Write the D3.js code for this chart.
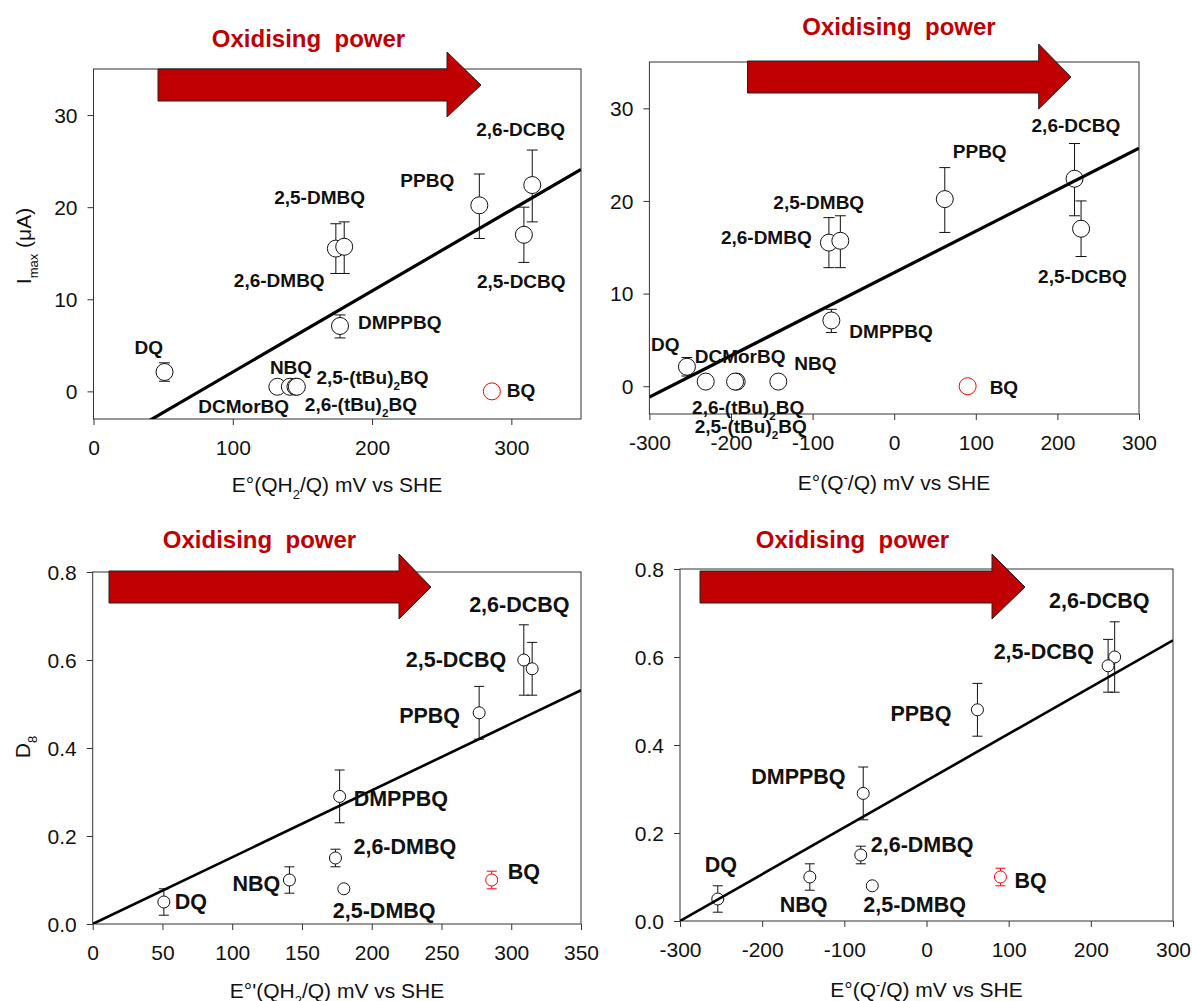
<!DOCTYPE html>
<html><head><meta charset="utf-8">
<script src="https://cdn.jsdelivr.net/npm/d3@7"></script>
<style>
html,body{margin:0;padding:0;background:#fff;}
svg{display:block;font-family:"Liberation Sans",Arial,Helvetica,sans-serif;}
</style></head><body>
<svg id="c" width="1192" height="1001"></svg>
<script>
// ---------------- data ----------------
const compounds = ["DQ","DCMorBQ","NBQ","2,5-(tBu)2BQ","2,6-(tBu)2BQ","2,6-DMBQ","2,5-DMBQ","DMPPBQ","PPBQ","2,5-DCBQ","2,6-DCBQ","BQ"];
const eQH2   = [51, 132, 141, 145, 146, 174, 180, 177, 277, 309, 315, 286];      // E°(QH2/Q) mV
const eQrad  = [-254, -231, -142, -193, -195, -80, -66, -77, 62, 229, 221, 90];  // E°(Q·-/Q) mV
const iMax   = [2.1, 0.5, 0.5, 0.5, 0.5, 15.5, 15.7, 7.1, 20.2, 17.0, 22.4, 0];
const iMaxLo = [1.1, 0.5, 0.5, 0.5, 0.5, 12.8, 12.8, 5.8, 16.6, 14.0, 18.4, 0];
const iMaxHi = [3.1, 0.5, 0.5, 0.5, 0.5, 18.2, 18.4, 8.3, 23.6, 20.0, 26.2, 0];
const dInf   = [0.05, null, 0.10, null, null, 0.15, 0.08, 0.29, 0.48, 0.60, 0.58, 0.10];
const dInfLo = [0.02, null, 0.07, null, null, 0.13, 0.08, 0.23, 0.42, 0.52, 0.52, 0.08];
const dInfHi = [0.08, null, 0.13, null, null, 0.17, 0.08, 0.35, 0.54, 0.68, 0.64, 0.12];
const outliers = ["BQ"];
const fitSlope     = [0.0880, 0.0448, 0.001518, 0.001063];
const fitIntercept = [-6.70, 12.26, 0, 0.319];
const xTicksQH2a = [0, 100, 200, 300];
const xTicksQH2b = [0, 50, 100, 150, 200, 250, 300, 350];
const xTicksQrad = [-300, -200, -100, 0, 100, 200, 300];
const yTicksImax = [0, 10, 20, 30];
const yTicksD    = [0, 0.2, 0.4, 0.6, 0.8];
const headline = "Oxidising  power";

// ---------------- layout ----------------
const intFmt = d => String(d);
const panels = [
  { x: eQH2, y: iMax, lo: iMaxLo, hi: iMaxHi, xDom: [0, 350], yDom: [-3, 35],
    xTicks: xTicksQH2a, yTicks: yTicksImax, yFmt: intFmt,
    box: [93.5, 69, 581, 419], r: 8.5, lab: 19, cap: 11, lw: 3.2, fit: 0,
    xTitle: [["E°(QH", ""], ["2", "sub"], ["/Q) mV vs SHE", ""]], xTitlePos: [337, 492],
    yTitle: [["I", ""], ["max", "sub"], [" (μA)", ""]], yTitlePos: [31, 246],
    arrow: { x0: 158, x1: 447, y0: 69, y1: 101, h0: 52, h1: 117, tip: 481 }, head: [308.5, 47],
    off: { "DQ": [-30, -18], "DCMorBQ": [-79, 26], "NBQ": [-20, -13], "2,5-(tBu)2BQ": [21, -3],
           "2,6-(tBu)2BQ": [8, 24], "2,6-DMBQ": [-102, 38], "2,5-DMBQ": [-70, -43], "DMPPBQ": [18, 3],
           "PPBQ": [-79, -18], "2,5-DCBQ": [-47, 53], "2,6-DCBQ": [-56, -49], "BQ": [15, 6] } },
  { x: eQrad, y: iMax, lo: iMaxLo, hi: iMaxHi, xDom: [-300, 300], yDom: [-3, 35],
    xTicks: xTicksQrad, yTicks: yTicksImax, yFmt: intFmt,
    box: [649.4, 62, 1139, 414], r: 8.5, lab: 19, cap: 11, lw: 3.2, fit: 1,
    xTitle: [["E°(Q", ""], ["-", "sup"], ["/Q) mV vs SHE", ""]], xTitlePos: [894, 490],
    yTitle: null,
    arrow: { x0: 747.5, x1: 1038.7, y0: 61, y1: 93, h0: 44, h1: 109, tip: 1071 }, head: [899, 35],
    off: { "DQ": [-36, -16], "DCMorBQ": [-11, -19], "NBQ": [16, -12], "2,5-(tBu)2BQ": [-42, 51],
           "2,6-(tBu)2BQ": [-43, 32], "2,6-DMBQ": [-108, 1], "2,5-DMBQ": [-67, -32], "DMPPBQ": [18, 18],
           "PPBQ": [8, -41], "2,5-DCBQ": [-43, 54], "2,6-DCBQ": [-43, -47], "BQ": [22, 8] } },
  { x: eQH2, y: dInf, lo: dInfLo, hi: dInfHi, xDom: [0, 350], yDom: [0, 0.8],
    xTicks: xTicksQH2b, yTicks: yTicksD, yFmt: d3.format(".1f"),
    box: [92.7, 572, 581, 924], r: 6, lab: 21.5, cap: 10, lw: 2.6, fit: 2,
    xTitle: [["E°'(QH", ""], ["2", "sub"], ["/Q) mV vs SHE", ""]], xTitlePos: [337, 998],
    yTitle: [["D", ""], ["8", "sub"]], yTitlePos: [30, 747],
    arrow: { x0: 109, x1: 399, y0: 571, y1: 603, h0: 554, h1: 619, tip: 431 }, head: [259.5, 548],
    off: { "DQ": [11, 7], "NBQ": [-57, 11], "2,6-DMBQ": [18, -4], "2,5-DMBQ": [-11, 29],
           "DMPPBQ": [14, 10], "PPBQ": [-80, 10], "2,5-DCBQ": [-118, 7], "2,6-DCBQ": [-63, -57], "BQ": [16, -1] } },
  { x: eQrad, y: dInf, lo: dInfLo, hi: dInfHi, xDom: [-300, 300], yDom: [0, 0.8],
    xTicks: xTicksQrad, yTicks: yTicksD, yFmt: d3.format(".1f"),
    box: [680, 569, 1173, 921], r: 6, lab: 21.5, cap: 10, lw: 2.6, fit: 3,
    xTitle: [["E°(Q", ""], ["-", "sup"], ["/Q) mV vs SHE", ""]], xTitlePos: [926.5, 997],
    yTitle: null,
    arrow: { x0: 700, x1: 992, y0: 571, y1: 603, h0: 554, h1: 619, tip: 1025 }, head: [852.5, 548],
    off: { "DQ": [-13, -27], "NBQ": [-30, 35], "2,6-DMBQ": [10, -3], "2,5-DMBQ": [-9, 26],
           "DMPPBQ": [-112, -9], "PPBQ": [-87, 11], "2,5-DCBQ": [-121, 2], "2,6-DCBQ": [-59, -58], "BQ": [14, 11] } }
];

const svg = d3.select("#c");
svg.append("rect").attr("width", 1192).attr("height", 1001).attr("fill", "#fff");

function rich(textSel, parts, size) {
  let shift = 0;
  parts.forEach(([s, kind]) => {
    const t = textSel.append("tspan").text(s);
    let target = 0;
    if (kind === "sub") { target = size * 0.32; t.attr("font-size", size * 0.62); }
    else if (kind === "sup") { target = -size * 0.38; t.attr("font-size", size * 0.62); }
    const dy = target - shift;
    if (dy !== 0) t.attr("dy", dy);
    shift = target;
  });
}
function nameParts(n) {
  const m = n.match(/^(.*\))2(BQ)$/);
  return m ? [[m[1], ""], ["2", "sub"], [m[2], ""]] : [[n, ""]];
}

panels.forEach((p, pi) => {
  const [L, T, R, B] = p.box;
  const xs = d3.scaleLinear().domain(p.xDom).range([L, R]);
  const ys = d3.scaleLinear().domain(p.yDom).range([B, T]);
  const g = svg.append("g");

  // frame
  g.append("rect").attr("x", L).attr("y", T).attr("width", R - L).attr("height", B - T)
    .attr("fill", "none").attr("stroke", "#333").attr("stroke-width", 1);

  // axes
  const xa = g.append("g").attr("transform", `translate(0,${B})`)
    .call(d3.axisBottom(xs).tickValues(p.xTicks).tickSize(6).tickFormat(intFmt));
  const ya = g.append("g").attr("transform", `translate(${L},0)`)
    .call(d3.axisLeft(ys).tickValues(p.yTicks).tickSize(6).tickFormat(p.yFmt));
  [xa, ya].forEach(a => {
    a.select(".domain").remove();
    a.selectAll(".tick line").attr("stroke", "#333");
    a.selectAll(".tick text").attr("font-size", 21).attr("fill", "#111")
      .attr("font-family", '"Liberation Sans",Arial,sans-serif');
  });
  xa.selectAll(".tick text").attr("y", 36).attr("dy", 0);
  ya.selectAll(".tick text").attr("x", -16).attr("dy", "0.35em");

  // clip
  const cid = "clip" + pi;
  svg.append("clipPath").attr("id", cid).append("rect")
    .attr("x", L).attr("y", T).attr("width", R - L).attr("height", B - T);

  // points
  const idx = compounds.map((c, i) => i).filter(i => p.y[i] !== null);
  const pts = idx.map(i => ({ name: compounds[i], x: p.x[i], y: p.y[i], lo: p.lo[i], hi: p.hi[i],
    red: outliers.includes(compounds[i]) }));

  // error bars
  const eb = g.append("g");
  pts.filter(d => d.hi !== d.lo).forEach(d => {
    const cx = xs(d.x), col = d.red ? "#ff0000" : "#111";
    eb.append("line").attr("x1", cx).attr("x2", cx).attr("y1", ys(d.lo)).attr("y2", ys(d.hi))
      .attr("stroke", col).attr("stroke-width", 1);
    [d.lo, d.hi].forEach(v => eb.append("line").attr("x1", cx - p.cap / 2).attr("x2", cx + p.cap / 2)
      .attr("y1", ys(v)).attr("y2", ys(v)).attr("stroke", col).attr("stroke-width", 1));
  });

  // circles
  g.append("g").selectAll("circle").data(pts).join("circle")
    .attr("cx", d => xs(d.x)).attr("cy", d => ys(d.y)).attr("r", p.r)
    .attr("fill", "#fff").attr("stroke", d => d.red ? "#ff0000" : "#111").attr("stroke-width", 1);

  // regression line
  const line = d3.line().x(d => xs(d)).y(d => ys(fitSlope[p.fit] * d + fitIntercept[p.fit]));
  g.append("path").attr("d", line(p.xDom)).attr("clip-path", `url(#${cid})`)
    .attr("fill", "none").attr("stroke", "#000").attr("stroke-width", p.lw);

  // labels
  pts.forEach(d => {
    const o = p.off[d.name];
    const t = g.append("text").attr("x", xs(d.x) + o[0]).attr("y", ys(d.y) + o[1])
      .attr("font-size", p.lab).attr("font-weight", "bold").attr("fill", "#111");
    rich(t, nameParts(d.name), p.lab);
  });

  // arrow
  const a = p.arrow, mid = (a.y0 + a.y1) / 2;
  g.append("path").attr("d", `M${a.x0},${a.y0}L${a.x1},${a.y0}L${a.x1},${a.h0}L${a.tip},${mid}L${a.x1},${a.h1}L${a.x1},${a.y1}L${a.x0},${a.y1}Z`)
    .attr("fill", "#c00000").attr("stroke", "#222").attr("stroke-width", 1);
  g.append("text").attr("x", p.head[0]).attr("y", p.head[1]).attr("text-anchor", "middle")
    .attr("font-size", 24).attr("font-weight", "bold").attr("fill", "#c00000")
    .style("white-space", "pre").text(headline);

  // axis titles
  const xt = g.append("text").attr("x", p.xTitlePos[0]).attr("y", p.xTitlePos[1])
    .attr("text-anchor", "middle").attr("font-size", 21).attr("fill", "#111");
  rich(xt, p.xTitle, 21);
  if (p.yTitle) {
    const yt = g.append("text").attr("transform", `translate(${p.yTitlePos[0]},${p.yTitlePos[1]}) rotate(-90)`)
      .attr("text-anchor", "middle").attr("font-size", 21).attr("fill", "#111");
    rich(yt, p.yTitle, 21);
  }
});
</script>
</body></html>
